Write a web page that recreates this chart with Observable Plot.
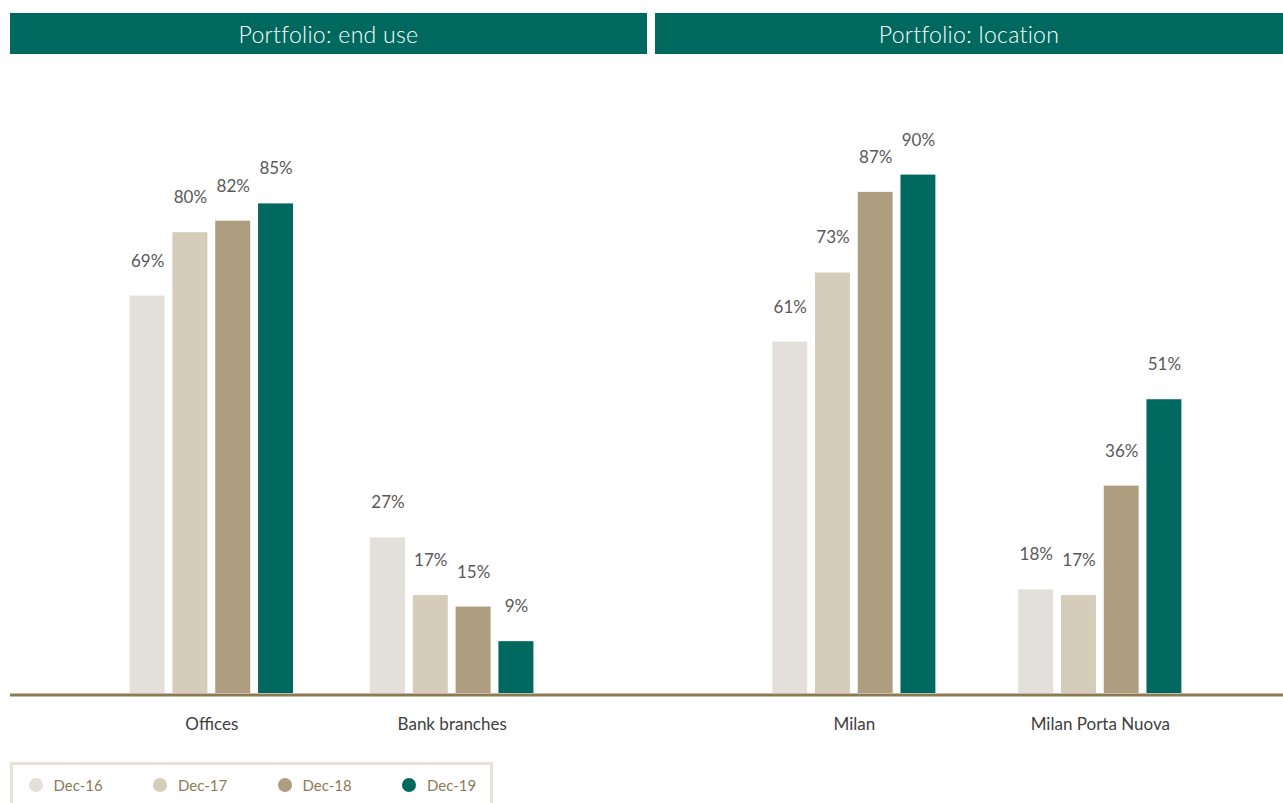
<!DOCTYPE html>
<html><head><meta charset="utf-8">
<script src="https://cdn.jsdelivr.net/npm/d3@7"></script>
<script src="https://cdn.jsdelivr.net/npm/@observablehq/plot@0.6"></script>
<style>
body{margin:0;background:#fff;font-family:Lato,sans-serif;}
#root{position:relative;width:1283px;height:803px;overflow:hidden;background:#fff;}
.hdr{position:absolute;top:13px;height:41px;background:#00695F;color:#fff;font-size:23px;font-weight:300;display:flex;align-items:center;justify-content:center;letter-spacing:0.3px;}
.panel{position:absolute;top:60px;}
.panel svg{display:block;overflow:visible;}
#legend{position:absolute;left:10px;top:762px;width:483px;height:60px;border:3px solid #E8E3DA;box-sizing:border-box;display:flex;padding-left:15.5px;padding-top:13px;}
.item{width:124.5px;height:14px;display:flex;align-items:center;color:#8C7B58;font-size:15px;flex:none;}
.dot{width:14px;height:14px;border-radius:50%;margin-right:11px;flex:none;}
</style></head><body>
<div id="root"></div>
<script>
const years = ["Dec-16", "Dec-17", "Dec-18", "Dec-19"];
const yearColors = ["#E3E0DB", "#D6CCBA", "#AD9E80", "#00695F"];
const panelTitles = ["Portfolio: end use", "Portfolio: location"];
const endUseCategories = ["Offices", "Bank branches"];
const locationCategories = ["Milan", "Milan Porta Nuova"];
const officesValues = [69, 80, 82, 85];
const bankBranchesValues = [27, 17, 15, 9];
const milanValues = [61, 73, 87, 90];
const portaNuovaValues = [18, 17, 36, 51];

function rowsFor(cats, series) {
  const out = [];
  cats.forEach((c, i) => years.forEach((y, j) => out.push({cat: c, year: y, value: series[i][j]})));
  return out;
}
const endUseRows = rowsFor(endUseCategories, [officesValues, bankBranchesValues]);
const locationRows = rowsFor(locationCategories, [milanValues, portaNuovaValues]);

const H = 700, MT = 57, MB = 67;

function panel(cats, rows, w, fxOpts) {
  return Plot.plot({
    width: w, height: H,
    marginLeft: 0, marginRight: 0, marginTop: MT, marginBottom: MB,
    style: {fontFamily: "Lato, sans-serif", fontSize: "17px", color: "#404040", background: "transparent"},
    facet: {data: rows, x: "cat"},
    fx: {domain: cats, round: false, axis: "bottom", label: null, tickSize: 0, tickPadding: 24, ...fxOpts},
    x: {domain: years, paddingInner: 0.183, paddingOuter: 0, round: false, axis: null},
    y: {domain: [0, 100], axis: null},
    color: {domain: years, range: yearColors},
    marks: [
      Plot.barY(rows, {x: "year", y: "value", fill: "year"}),
      Plot.text(rows, {x: "year", y: "value", text: d => d.value + "%", dy: -35, fill: "#595959", fontSize: 17})
    ]
  });
}

const root = document.getElementById("root");
const hdrs = [[10, 637], [655, 628]];
panelTitles.forEach((t, i) => {
  const d = document.createElement("div");
  d.className = "hdr";
  d.style.left = hdrs[i][0] + "px";
  d.style.width = hdrs[i][1] + "px";
  d.textContent = t;
  root.appendChild(d);
});

const left = document.createElement("div");
left.className = "panel"; left.style.left = "10px";
left.appendChild(panel(endUseCategories, endUseRows, 643, {paddingInner: 0.32, paddingOuter: 0.4975, align: 0.5}));
root.appendChild(left);

const right = document.createElement("div");
right.className = "panel"; right.style.left = "653px";
right.appendChild(panel(locationCategories, locationRows, 630, {paddingInner: 0.337, paddingOuter: 0.449, align: 0.54}));
root.appendChild(right);

// continuous baseline across both panels, on the same y scale
const base = document.createElement("div");
base.className = "panel"; base.style.left = "10px"; base.style.pointerEvents = "none";
base.appendChild(Plot.plot({
  width: 1273, height: H, marginLeft: 0, marginRight: 0, marginTop: MT, marginBottom: MB,
  style: {background: "transparent"},
  x: {axis: null}, y: {domain: [0, 100], axis: null},
  marks: [Plot.ruleY([0], {stroke: "#8B7A52", strokeWidth: 3, dy: 1.5})]
}));
root.appendChild(base);

const legend = document.createElement("div");
legend.id = "legend";
years.forEach((y, i) => {
  const it = document.createElement("div");
  it.className = "item";
  const dot = document.createElement("span");
  dot.className = "dot"; dot.style.background = yearColors[i];
  it.appendChild(dot);
  it.appendChild(document.createTextNode(y));
  legend.appendChild(it);
});
root.appendChild(legend);
</script>
</body></html>
